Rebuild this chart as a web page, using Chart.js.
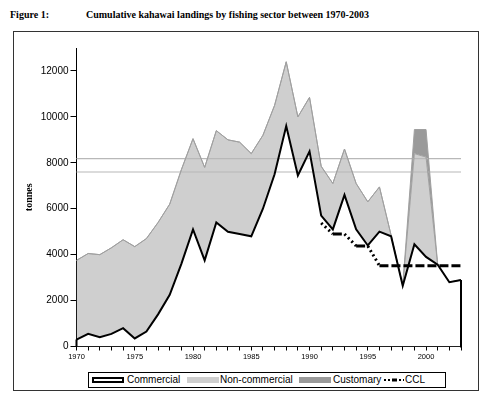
<!DOCTYPE html>
<html>
<head>
<meta charset="utf-8">
<script src="https://cdn.jsdelivr.net/npm/chart.js@4.4.1/dist/chart.umd.min.js"></script>
<style>
body{margin:0;background:#fff;width:500px;height:399px;position:relative;overflow:hidden}
#frame{position:absolute;left:13px;top:31px;width:466px;height:360px;box-sizing:border-box;border:1px solid #333}
.ttl{position:absolute;top:9px;font:bold 10px "Liberation Serif",serif;line-height:12px;white-space:nowrap}
#legend{position:absolute;left:88px;top:372px;width:358px;height:16px;box-sizing:border-box;border:1px solid #000;font:10px "Liberation Sans",Arial,sans-serif;background:#fff}
.sw{position:absolute;top:4px;height:6px;width:32px;box-sizing:border-box}
.lt{position:absolute;top:1px;line-height:12px;white-space:nowrap}
canvas{position:absolute;left:0;top:0}
</style>
</head>
<body>
<div id="frame"></div>
<div class="ttl" style="left:10px">Figure 1:</div>
<div class="ttl" style="left:86px">Cumulative kahawai landings by fishing sector between 1970-2003</div>
<canvas id="myChart" width="500" height="399"></canvas>
<div id="legend">
  <div class="sw" style="left:3px;background:#fff;border:2px solid #000"></div>
  <div class="lt" style="left:38px">Commercial</div>
  <div class="sw" style="left:98px;background:#cfcfcf"></div>
  <div class="lt" style="left:131px">Non-commercial</div>
  <div class="sw" style="left:210px;background:#9a9a9a"></div>
  <div class="lt" style="left:244px">Customary</div>
  <svg style="position:absolute;left:295px;top:4px" width="20" height="6">
    <rect x="0" y="2" width="2" height="2" fill="#000"/>
    <rect x="4" y="2" width="2" height="2" fill="#000"/>
    <rect x="8" y="1.5" width="5" height="3" fill="#000"/>
    <rect x="15" y="2" width="2" height="2" fill="#000"/>
    <rect x="19" y="2" width="1" height="2" fill="#000"/>
  </svg>
  <div class="lt" style="left:316px">CCL</div>
</div>
<script>
var years = ['1970','1971','1972','1973','1974','1975','1976','1977','1978','1979',
             '1980','1981','1982','1983','1984','1985','1986','1987','1988','1989',
             '1990','1991','1992','1993','1994','1995','1996','1997','1998','1999',
             '2000','2001','2002','2003'];
// tonnes
var commercial = [300,550,400,550,800,350,650,1400,2250,3600,
                  5100,3750,5400,5000,4900,4800,6000,7500,9600,7450,
                  8500,5700,5100,6600,5100,4400,5000,4800,2650,4450,
                  3900,3560,2800,2900];
var nonCommercial = [3450,3500,3600,3750,3850,4000,4050,4000,3950,4100,
                     3950,4050,4000,4000,4000,3600,3200,3000,2800,2550,
                     2350,2150,2000,2000,2000,1900,1950,50,0,3950,
                     4350,0,0,0];
var customary = [0,0,0,0,0,0,0,0,0,0,
                 0,0,0,0,0,0,0,0,0,0,
                 0,0,0,0,0,0,0,0,0,1050,
                 1200,0,0,0];
var ccl = [null,null,null,null,null,null,null,null,null,null,
           null,null,null,null,null,null,null,null,null,null,
           null,5380,4900,4900,4380,4380,3520,3520,3520,3520,
           3520,3520,3520,3520];
var refLevels = [8180, 7600];
var yTicks = [0,2000,4000,6000,8000,10000,12000];

Chart.defaults.font.family = '"Liberation Sans", Arial, sans-serif';
Chart.defaults.color = '#000';

// commercial is an excel style area: close the outline down to zero at both ends
var areaEdges = {
  id: 'areaEdges',
  afterDatasetsDraw(chart) {
    var meta = chart.getDatasetMeta(1);
    var y0 = chart.scales.y.getPixelForValue(0);
    var a = meta.data[0], b = meta.data[meta.data.length - 1];
    var c = chart.ctx;
    c.save();
    c.strokeStyle = '#000';
    c.lineWidth = 2;
    c.beginPath();
    c.moveTo(a.x, a.y); c.lineTo(a.x, y0);
    c.moveTo(b.x, b.y); c.lineTo(b.x, y0 + 1);
    c.stroke();
    c.restore();
  }
};

new Chart('myChart', {
  type: 'line',
  data: {
    labels: years,
    datasets: [
      {label: 'CCL', data: ccl, stack: 'ccl', borderColor: '#000', borderWidth: 3, fill: false,
       pointRadius: 0, borderCapStyle: 'butt',
       segment: {borderDash: function (s) { return s.p0.parsed.y === s.p1.parsed.y ? [9, 3] : [2, 3]; }}},
      {label: 'Commercial', data: commercial, stack: 'a', borderColor: '#000', borderWidth: 2,
       backgroundColor: '#fff', fill: 'origin', pointRadius: 0},
      {label: 'Non-commercial', data: nonCommercial, stack: 'a', borderColor: '#a0a0a0', borderWidth: 1,
       backgroundColor: '#cfcfcf', fill: 1, pointRadius: 0},
      {label: 'Customary', data: customary, stack: 'a', borderColor: '#a0a0a0', borderWidth: 1,
       backgroundColor: '#9a9a9a', fill: 2, pointRadius: 0},
      {label: 'ref1', data: [{x: years[0], y: refLevels[0]}, {x: years[years.length - 1], y: refLevels[0]}],
       stack: 'r1', borderColor: '#b8b8b8', borderWidth: 1.2, fill: false, pointRadius: 0},
      {label: 'ref2', data: [{x: years[0], y: refLevels[1]}, {x: years[years.length - 1], y: refLevels[1]}],
       stack: 'r2', borderColor: '#b8b8b8', borderWidth: 1.2, fill: false, pointRadius: 0}
    ]
  },
  options: {
    responsive: false,
    animation: false,
    devicePixelRatio: 1,
    layout: {padding: {left: 17, top: 48, right: 39, bottom: 33}},
    elements: {line: {tension: 0}},
    plugins: {
      legend: {display: false},
      tooltip: {enabled: false},
      filler: {drawTime: 'beforeDatasetsDraw'}
    },
    scales: {
      x: {
        type: 'category',
        offset: false,
        grid: {drawOnChartArea: false, drawTicks: true, tickLength: 4, color: '#000'},
        border: {display: true, color: '#000', width: 1},
        ticks: {
          font: {size: 7.5}, padding: 2, maxRotation: 0, autoSkip: false,
          callback: function (v, i) { return Number(years[i]) % 5 === 0 ? years[i] : ''; }
        },
        afterFit: function (s) { s.height = 19.5; }
      },
      y: {
        stacked: true,
        min: 0,
        max: 13000,
        grid: {drawOnChartArea: false, drawTicks: true, tickLength: 6, color: '#000'},
        border: {display: true, color: '#000', width: 1},
        ticks: {font: {size: 10}, padding: 2, stepSize: 2000,
                callback: function (v) { return String(v); }},
        afterBuildTicks: function (s) { s.ticks = yTicks.map(function (v) { return {value: v}; }); },
        title: {display: true, text: 'tonnes', font: {family: '"Liberation Serif", serif', size: 10, weight: 'bold'},
                padding: {top: 6, bottom: 0}},
        afterFit: function (s) { s.width = 59.5; }
      }
    }
  },
  plugins: [areaEdges]
});
</script>
</body>
</html>
